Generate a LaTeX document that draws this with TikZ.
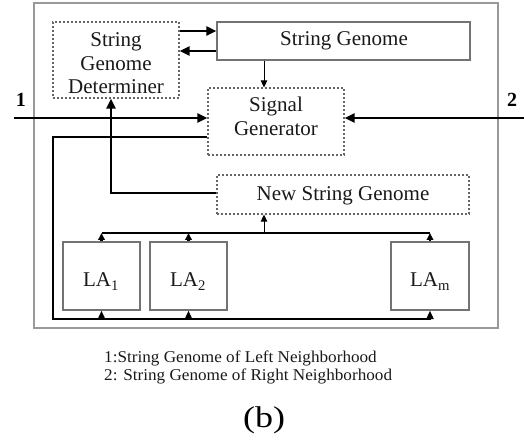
\documentclass[tikz,border=0pt]{standalone}
\usepackage{fontspec}
\setmainfont{Liberation Serif}
\newfontfamily\capfont[FakeStretch=1.04]{Liberation Serif}
\newfontfamily\bfont[FakeStretch=1.2]{Liberation Serif}
\usetikzlibrary{arrows.meta}
\begin{document}
\begin{tikzpicture}[x=1pt,y=-1pt,
  frame/.style={draw=black!40, line width=1.5pt},
  dbox/.style={draw=black!60, dash pattern=on 2pt off 2pt, line width=1.2pt, rectangle, inner sep=0pt},
  sbox/.style={draw=black!55, line width=1.2pt, rectangle, inner sep=0pt},
  boxtext/.style={font=\fontsize{21}{23.5}\selectfont, text=black!90, inner sep=0pt, align=center},
  thk/.style={line width=2.2pt},
  thn/.style={line width=1pt},
  bigtip/.style={-{Triangle[length=10pt,width=9pt]}},
  smalltip/.style={-{Triangle[length=7pt,width=6.5pt]}},
  latip/.style={-{Triangle[length=8.5pt,width=7pt]}}
]
\useasboundingbox (0,0) rectangle (524,443);
% outer frame
\draw[frame] (34,3) rectangle (498,328);

% boxes
\node[dbox, minimum width=126pt, minimum height=76pt] (det) at (116,60) {};
\node[boxtext] (dett) at (116,63.5) {String\\Genome\\Determiner};
\node[sbox, minimum width=253pt, minimum height=38pt] (sg) at (343.5,41) {};
\node[boxtext, anchor=base] (sgt) at (344,46) {String Genome};
\node[dbox, minimum width=136pt, minimum height=67pt] (sig) at (276,121.5) {};
\node[boxtext] (sigt) at (276,116.5) {Signal\\Generator};
\node[dbox, minimum width=252pt, minimum height=39pt] (nsg) at (343,194.5) {};
\node[boxtext, anchor=base] (nsgt) at (343,200.5) {New String Genome};
\node[sbox, minimum width=77pt, minimum height=68pt] (la1) at (101.5,276) {};
\node[boxtext, anchor=base] (la1t) at (101,287) {LA\textsubscript{1}};
\node[sbox, minimum width=77pt, minimum height=68pt] (la2) at (188.5,276) {};
\node[boxtext, anchor=base] (la2t) at (188,287) {LA\textsubscript{2}};
\node[sbox, minimum width=78pt, minimum height=68pt] (lam) at (430,276) {};
\node[boxtext, anchor=base] (lamt) at (430,287) {LA\textsubscript{m}};

% coordinates
\coordinate (r31) at (0,31);
\coordinate (r51) at (0,51);
\coordinate (in1) at (14,118);
\coordinate (in2) at (524,118);
\coordinate (c53) at (53,137);
\coordinate (bot) at (53,319);
\coordinate (top) at (0,233);
\coordinate (a264) at (264,233);
\coordinate (fb) at (111,193);

% determiner <-> string genome
\draw[thk,bigtip] (det.east |- r31) -- (sg.west |- r31);
\draw[thk,bigtip] (sg.west |- r51) -- (det.east |- r51);
% string genome -> signal generator
\draw[thn,smalltip] (a264 |- sg.south) -- (a264 |- sig.north);
% inputs 1 and 2
\draw[thk,bigtip] (in1) -- (sig.west |- in1);
\draw[thk,bigtip] (in2) -- (sig.east |- in2);
\node[font=\fontsize{20}{22}\selectfont\bfseries, inner sep=0pt] (l1) at (21,100) {1};
\node[font=\fontsize{20}{22}\selectfont\bfseries, inner sep=0pt] (l2) at (512,100) {2};
% signal generator -> LAs
\draw[thk] (sig.west |- c53) -- (c53) -- (bot) -- (lam.south |- bot);
\draw[thk,latip] (la1.south |- bot) -- (la1.south);
\draw[thk,latip] (la2.south |- bot) -- (la2.south);
\draw[thk,latip] (lam.south |- bot) -- (lam.south);
% LAs -> top line
\draw[thk] (la1.north |- top) -- (lam.north |- top);
\draw[thk,smalltip] (la1.north) -- (la1.north |- top);
\draw[thk,smalltip] (la2.north) -- (la2.north |- top);
\draw[thk,smalltip] (lam.north) -- (lam.north |- top);
% top line -> new string genome
\draw[thn,smalltip] (a264) -- (a264 |- nsg.south);
% new string genome -> determiner
\draw[thk,bigtip] (nsg.west |- fb) -- (fb) -- (fb |- det.south);

% captions
\node[font=\capfont\fontsize{16.5}{18}\selectfont, text=black!90, anchor=base west, inner sep=0pt] (cap1) at (104,362) {1:String Genome of Left Neighborhood};
\node[font=\capfont\fontsize{16.5}{18}\selectfont, text=black!90, anchor=base west, inner sep=0pt] (cap2) at (104,380) {2: String Genome of Right Neighborhood};
\node[font=\bfont\fontsize{30}{32}\selectfont, anchor=base, inner sep=0pt] (capb) at (264,427) {(b)};
\end{tikzpicture}
\end{document}
